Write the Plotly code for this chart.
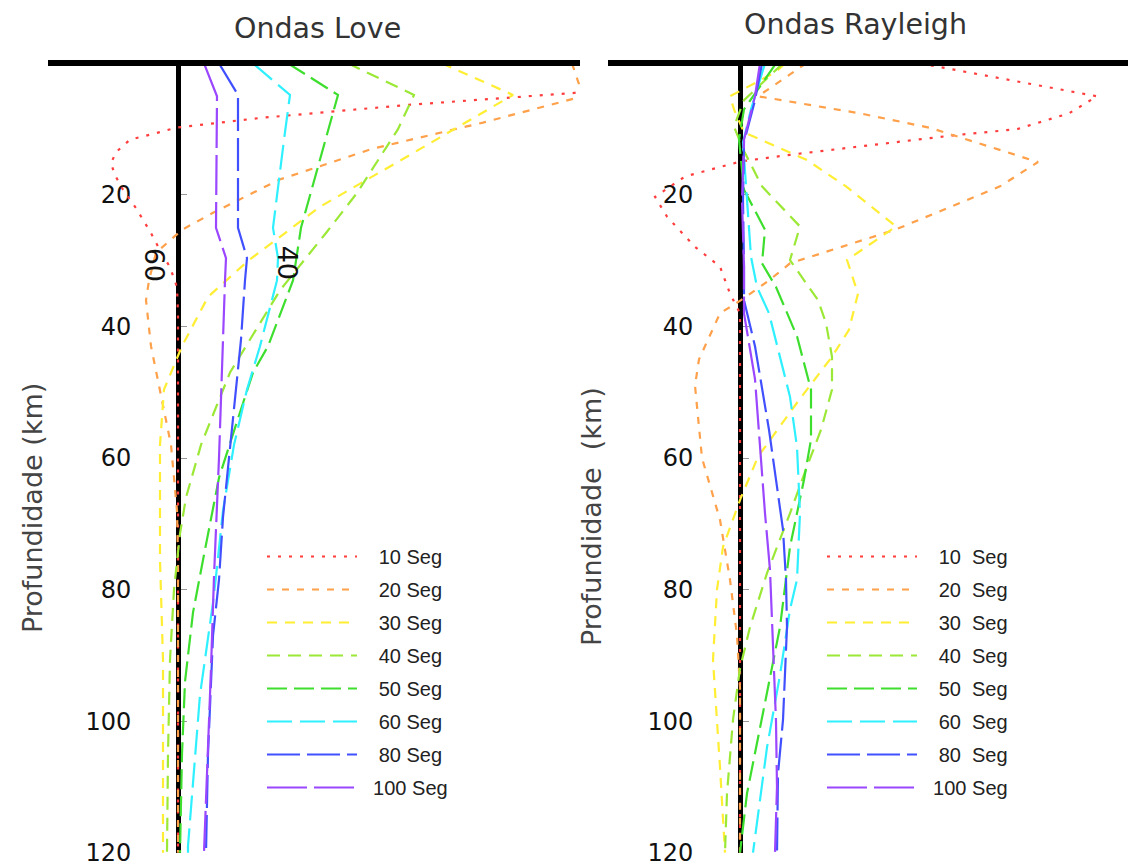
import plotly.graph_objects as go

W, H = 1128, 866

# ---------------- series styling ----------------
periods = ["10", "20", "30", "40", "50", "60", "80", "100"]
colors = ["#ff3d3d", "#ffa04a", "#ffee33", "#9be836", "#3ede2e", "#2ef0ff", "#4150ff", "#9a47ff"]
dashes = ["3px,8px", "7px,8px", "10px,8px", "13px,8px", "20px,7px", "25px,8px", "33px,7px", "40px,7px"]

love_labels = ["\u00a0\u00a0\u00a010 Seg", "\u00a0\u00a0\u00a020 Seg", "\u00a0\u00a0\u00a030 Seg", "\u00a0\u00a0\u00a040 Seg",
               "\u00a0\u00a0\u00a050 Seg", "\u00a0\u00a0\u00a060 Seg", "\u00a0\u00a0\u00a080 Seg", "\u00a0\u00a0100 Seg"]
rayl_labels = ["\u00a0\u00a0\u00a010\u00a0\u00a0Seg", "\u00a0\u00a0\u00a020\u00a0\u00a0Seg", "\u00a0\u00a0\u00a030\u00a0\u00a0Seg",
               "\u00a0\u00a0\u00a040\u00a0\u00a0Seg", "\u00a0\u00a0\u00a050\u00a0\u00a0Seg", "\u00a0\u00a0\u00a060\u00a0\u00a0Seg",
               "\u00a0\u00a0\u00a080\u00a0\u00a0Seg", "\u00a0\u00a0100 Seg"]

depth_ticks = [20, 40, 60, 80, 100, 120]

# ---------------- Ondas Love (depth km, relative amplitude) ----------------
love_d10 = [0, 4.5, 6.3, 8.3, 9.8, 10.3, 11.6, 13.5, 15.2, 17, 19.2, 22, 25.8, 28.4, 31, 34, 38, 120]
love_a10 = [560, 396, 231, 82, -3, -14, -48, -62, -67, -63, -55, -42, -27, -18, -8, -1, 0, 0]

love_d20 = [0, 5, 9, 13, 17.7, 22.8, 25.3, 28.8, 33, 36, 43, 49.6, 58, 68, 75, 120]
love_a20 = [394, 405, 305, 194, 101, 34, 4, -22, -29, -32, -27, -18, -7, -1, 0, 0]

love_d30 = [0, 4.8, 14, 21.8, 29.9, 35.5, 43, 49.6, 58, 68, 75.5, 90.7, 120]
love_a30 = [264, 335, 231, 142, 71, 30, 4, -14, -18, -18, -18, -15, -15]

love_d40 = [0, 4.8, 10, 19.7, 25.6, 34.5, 47, 58, 66, 71.5, 80, 90.7, 105, 120]
love_a40 = [170, 236, 220, 179, 149, 102, 52, 23, 8, 2, -4, -8, -10, -11]

love_d50 = [0, 4.8, 25, 33, 43, 47, 54, 63, 75.5, 83.5, 94, 105, 120]
love_a50 = [110, 160, 123, 115, 90, 75, 60, 41, 25, 15, 7, 4, 2]

love_d60 = [0, 4.8, 11.6, 25, 29.6, 33, 43, 49.6, 58, 68, 78, 82, 96, 111, 119, 120]
love_a60 = [75, 112, 106, 95, 100, 99, 82, 69, 56, 45, 38, 35, 22, 14, 10, 10]

love_d80 = [0, 4.8, 25, 29.6, 33, 42, 54, 69, 78.5, 87, 105, 120]
love_a80 = [41, 60, 60, 69, 67, 63, 55, 45, 41, 35, 30, 28]

love_d100 = [0, 5, 25, 29.6, 33, 48, 60, 78, 92, 120]
love_a100 = [26, 39, 38, 48, 47, 44, 41, 36, 33, 26]

# ---------------- Ondas Rayleigh (depth km, relative amplitude) ----------------
rayl_d10 = [0, 5, 7.6, 10, 11, 12.6, 13.9, 14.9, 17.2, 20.3, 23.3, 27.9, 30.9, 35, 38, 120]
rayl_a10 = [180, 357, 329, 277, 210, 120, 50, 1, -55, -85, -73, -45, -20, -10, 0, 0]

rayl_d20 = [0, 5, 7.6, 9.8, 15, 18.7, 25.3, 30.4, 33, 36, 38, 45, 49, 60, 69.4, 78.5, 87, 95, 120]
rayl_a20 = [66, 18, 120, 190, 298, 260, 155, 50, 29, 1, -20, -41, -45, -38, -20, -10, -3, 0, 0]

rayl_d30 = [0, 1.3, 5, 7, 10.5, 14.7, 18.7, 24.8, 29.9, 35, 40.5, 44.6, 51.6, 59.8, 66, 73.5, 80, 90.7, 107, 120]
rayl_a30 = [45, 36, -10, -6, 4, 67, 106, 156, 107, 118, 109, 92, 57, 18, 1, -17, -23, -27, -20, -15]

rayl_d40 = [0, 5.6, 9.6, 13, 18.7, 24.8, 29.9, 36, 39.5, 44.6, 49.6, 55.7, 61.3, 68.4, 77.5, 85.7, 92, 99.8, 111, 120]
rayl_a40 = [43, 4, -6, 3, 22, 60, 50, 78, 86, 92, 92, 81, 67, 50, 27, 10, 0, -7, -13, -15]

rayl_d50 = [0, 7, 11.6, 19.2, 25.3, 30.4, 34, 41.5, 49.6, 57.2, 63.3, 73.5, 85.7, 95.7, 111, 120]
rayl_a50 = [36, 4, -1, 4, 25, 22, 36, 57, 71, 71, 64, 50, 40, 27, 7, 0]

rayl_d60 = [0, 7, 12, 23.3, 29.4, 34, 38, 50.7, 58.3, 68.4, 78.5, 83, 93, 104, 120]
rayl_a60 = [25, 11, 3, 8, 11, 17, 29, 50, 57, 60, 57, 50, 40, 27, 13]

rayl_d80 = [0, 5.6, 12, 20.8, 30.9, 36, 43, 55.7, 70.9, 78.5, 85.7, 99.8, 108, 120]
rayl_a80 = [22, 15, 4, 3, 4, 4, 15, 29, 43, 46, 47, 43, 38, 37]

rayl_d100 = [0, 5, 11.6, 20.8, 30.9, 38, 48, 68.4, 77, 90, 100, 110, 120]
rayl_a100 = [20, 15, 4, 2, 4, 4, 15, 25, 30, 33, 36, 37, 35]

love_depths = [love_d10, love_d20, love_d30, love_d40, love_d50, love_d60, love_d80, love_d100]
love_amps = [love_a10, love_a20, love_a30, love_a40, love_a50, love_a60, love_a80, love_a100]
rayl_depths = [rayl_d10, rayl_d20, rayl_d30, rayl_d40, rayl_d50, rayl_d60, rayl_d80, rayl_d100]
rayl_amps = [rayl_a10, rayl_a20, rayl_a30, rayl_a40, rayl_a50, rayl_a60, rayl_a80, rayl_a100]

fig = go.Figure()
for i, p in enumerate(periods):
    fig.add_trace(go.Scatter(
        x=love_amps[i], y=love_depths[i], mode="lines", name=love_labels[i],
        line=dict(color=colors[i], width=2.2, dash=dashes[i]),
        xaxis="x", yaxis="y", legend="legend", legendgroup="L" + p))
for i, p in enumerate(periods):
    fig.add_trace(go.Scatter(
        x=rayl_amps[i], y=rayl_depths[i], mode="lines", name=rayl_labels[i],
        line=dict(color=colors[i], width=2.2, dash=dashes[i]),
        xaxis="x2", yaxis="y2", legend="legend2", legendgroup="R" + p))

PT, PB = 66, 853          # plot area top / bottom in px
def py(pix):              # pixel y -> paper y
    return (PB - pix) / (PB - PT)

xcommon = dict(side="top", showline=True, linecolor="black", linewidth=6,
               showticklabels=False, ticks="", showgrid=False, zeroline=False)
ycommon = dict(domain=[0, 1], range=[120.05, 0.4], anchor="free", showline=True,
               linecolor="black", linewidth=5, ticks="inside", ticklen=6,
               tickcolor="#999", tickwidth=1, tickvals=depth_ticks,
               ticklabelstandoff=40, ticklabeloverflow="allow",
               tickfont=dict(family="DejaVu Sans", size=24, color="#111"),
               showgrid=False, zeroline=False, layer="below traces")

legcommon = dict(xanchor="left", yanchor="top", itemwidth=90, tracegroupgap=4,
                 traceorder="grouped", bgcolor="rgba(0,0,0,0)", borderwidth=0,
                 font=dict(family="Liberation Sans", size=20, color="#222"))

fig.update_layout(
    width=W, height=H,
    margin=dict(l=0, r=0, t=PT, b=H - PB, pad=0),
    paper_bgcolor="white", plot_bgcolor="white",
    showlegend=True,
    xaxis=dict(domain=[48 / W, 580 / W], range=[-130, 402], anchor="y", **xcommon),
    yaxis=dict(position=178 / W, **ycommon),
    xaxis2=dict(domain=[608 / W, 1.0], range=[-132, 388], anchor="y2", **xcommon),
    yaxis2=dict(position=740 / W, **ycommon),
    legend=dict(x=262 / W, y=py(537), **legcommon),
    legend2=dict(x=822 / W, y=py(537), **legcommon),
)

title_font = dict(family="DejaVu Sans", size=28.5, color="#333")
ytitle_font = dict(family="DejaVu Sans", size=27, color="#444")
annots = [
    dict(text="Ondas Love", x=317 / W, y=py(28), xref="paper", yref="paper",
         showarrow=False, font=title_font, xanchor="center", yanchor="middle"),
    dict(text="Ondas Rayleigh", x=855 / W, y=py(25), xref="paper", yref="paper",
         showarrow=False, font=title_font, xanchor="center", yanchor="middle"),
    dict(text="Profundidade (km)", x=32 / W, y=py(508), xref="paper", yref="paper",
         showarrow=False, font=ytitle_font, textangle=-90, xanchor="center", yanchor="middle"),
    dict(text="Profundidade\u00a0\u00a0(km)", x=591 / W, y=py(517), xref="paper", yref="paper",
         showarrow=False, font=ytitle_font, textangle=-90, xanchor="center", yanchor="middle"),
    dict(text="60", x=-24, y=30.6, xref="x", yref="y", showarrow=False, textangle=90,
         font=dict(family="DejaVu Sans", size=27, color="#111")),
    dict(text="40", x=109, y=30.3, xref="x", yref="y", showarrow=False, textangle=90,
         font=dict(family="DejaVu Sans", size=27, color="#111")),
]
fig.update_layout(annotations=annots)

fig.write_html("out.html")
